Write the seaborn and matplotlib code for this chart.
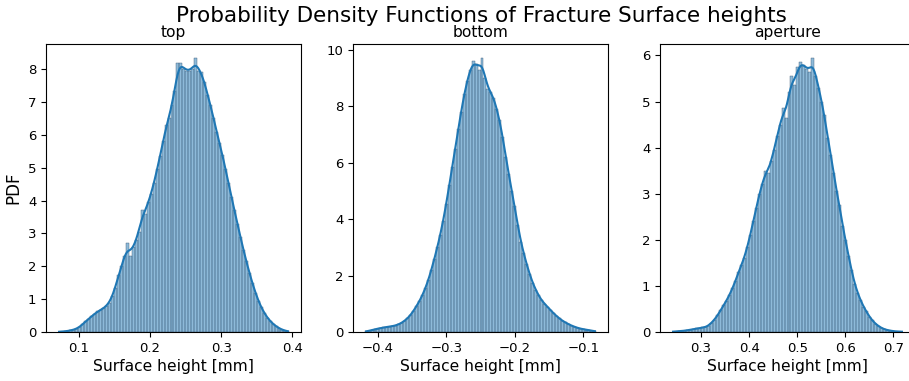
import numpy as np
import pandas as pd
import matplotlib
matplotlib.use("Agg")
import matplotlib.pyplot as plt
import seaborn as sns

titles = ["top", "bottom", "aperture"]
suptitle = "Probability Density Functions of Fracture Surface heights"
xlabel = "Surface height [mm]"
ylabel = "PDF"

# data range (min, max) of each surface, in mm
top_range = [0.0698, 0.396]
bottom_range = [-0.4197, -0.0808]
aperture_range = [0.2389, 0.7209]

# density of each histogram bin (78 equal bins over the range)
top_pdf = [0.01, 0.01, 0.02, 0.03, 0.05, 0.07, 0.10, 0.15, 0.24, 0.33,
           0.40, 0.48, 0.56, 0.63, 0.66, 0.72, 0.80, 0.88, 1.10, 1.35,
           1.75, 2.00, 2.30, 2.70, 2.30, 2.60, 2.80, 3.05, 3.70, 3.60,
           3.95, 4.20, 4.55, 4.95, 5.35, 5.80, 6.30, 6.50, 6.90, 7.35,
           8.20, 8.20, 8.00, 7.95, 7.95, 8.00, 8.35, 7.95, 7.90, 7.60,
           7.20, 6.90, 6.50, 6.10, 5.75, 5.40, 4.95, 4.55, 4.10, 3.70,
           3.30, 2.90, 2.50, 2.15, 1.80, 1.50, 1.20, 0.95, 0.75, 0.57,
           0.44, 0.33, 0.24, 0.17, 0.11, 0.07, 0.04, 0.02]

bottom_pdf = [0.02, 0.04, 0.07, 0.10, 0.12, 0.14, 0.16, 0.18, 0.19, 0.21,
              0.23, 0.27, 0.32, 0.40, 0.48, 0.60, 0.75, 0.92, 1.10, 1.30,
              1.55, 1.85, 2.20, 2.60, 3.00, 3.45, 3.95, 4.55, 5.20, 5.85,
              6.50, 7.20, 7.80, 8.45, 8.90, 9.30, 9.60, 9.50, 9.30, 9.72,
              9.00, 8.60, 8.50, 8.30, 7.90, 7.50, 6.90, 6.20, 5.60, 5.00,
              4.45, 3.80, 3.20, 2.80, 2.40, 2.05, 1.75, 1.50, 1.30, 1.12,
              1.00, 0.90, 0.78, 0.67, 0.57, 0.48, 0.40, 0.34, 0.28, 0.23,
              0.19, 0.15, 0.12, 0.10, 0.08, 0.07, 0.05, 0.03]

aperture_pdf = [0.01, 0.01, 0.02, 0.02, 0.03, 0.04, 0.05, 0.06, 0.08, 0.08,
                0.10, 0.10, 0.14, 0.20, 0.27, 0.36, 0.47, 0.58, 0.68, 0.80,
                0.95, 1.10, 1.30, 1.45, 1.60, 1.85, 2.10, 2.40, 2.70, 3.00,
                3.20, 3.50, 3.45, 3.70, 3.95, 4.25, 4.50, 4.85, 4.65, 5.20,
                5.55, 5.35, 5.75, 5.85, 5.80, 5.70, 5.65, 5.95, 5.55, 5.30,
                5.00, 4.70, 4.20, 3.85, 3.45, 3.05, 2.75, 2.30, 2.00, 1.65,
                1.35, 1.05, 0.85, 0.70, 0.55, 0.45, 0.33, 0.25, 0.18, 0.13,
                0.09, 0.06, 0.04, 0.03, 0.02, 0.01, 0.01, 0.01]

ranges = [top_range, bottom_range, aperture_range]
pdfs = [top_pdf, bottom_pdf, aperture_pdf]

fig, axes = plt.subplots(1, 3, figsize=(9.09, 3.81), dpi=100)
fig.subplots_adjust(left=46 / 909, right=915 / 909, bottom=1 - 332 / 381,
                    top=1 - 44 / 381, wspace=0.204)
for ax, title, rng, pdf in zip(axes, titles, ranges, pdfs):
    nb = len(pdf)
    width = (rng[1] - rng[0]) / nb
    centers = rng[0] + width * (np.arange(nb) + 0.5)
    df = pd.DataFrame({"height": centers, "pdf": pdf})
    sns.histplot(data=df, x="height", weights="pdf", bins=nb,
                 binrange=(rng[0], rng[1]), stat="count", kde=True,
                 kde_kws={"bw_adjust": 0.19}, alpha=0.5,
                 edgecolor="#3c5a78", linewidth=0.3,
                 line_kws={"linewidth": 1.5}, ax=ax)
    ax.set_title(title, fontsize=11.2, pad=5)
    ax.set_xlabel(xlabel, fontsize=11.2, labelpad=3)
    ax.set_ylabel("")
    ax.tick_params(labelsize=9.5)
axes[0].set_ylabel(ylabel, fontsize=12)
fig.suptitle(suptitle, fontsize=15.5, x=481 / 909, y=0.985)
fig.savefig("out.png", dpi=100)
